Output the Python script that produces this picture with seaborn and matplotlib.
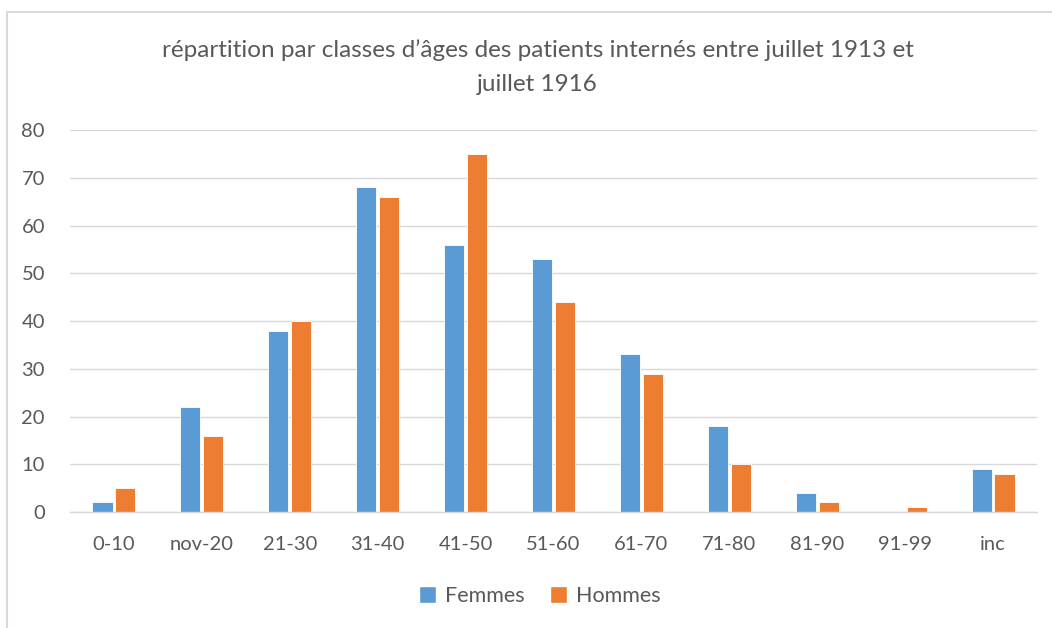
import pandas as pd
import numpy as np
import matplotlib.pyplot as plt
import seaborn as sns
from matplotlib.lines import Line2D
from matplotlib.patches import Patch

classes = ["0-10", "nov-20", "21-30", "31-40", "41-50", "51-60", "61-70", "71-80", "81-90", "91-99", "inc"]
femmes = [2, 22, 38, 68, 56, 53, 33, 18, 4, 0, 9]
hommes = [5, 16, 40, 66, 75, 44, 29, 10, 2, 1, 8]
y_ticks = [0, 10, 20, 30, 40, 50, 60, 70, 80]

df = pd.DataFrame({
    "classe": classes * 2,
    "valeur": femmes + hommes,
    "sexe": ["Femmes"] * len(classes) + ["Hommes"] * len(classes),
})

sns.set_style("white")
plt.rcParams["font.family"] = ["Lato", "DejaVu Sans"]
txt = "#595959"
grid_c = "#D9D9D9"
colors = ["#5B9BD5", "#ED7D31"]

fig = plt.figure(figsize=(10.52, 6.28), dpi=100)
ax = fig.add_axes([70 / 1052, (628 - 512) / 628, (1037 - 70) / 1052, (512 - 130) / 628])

sns.barplot(data=df, x="classe", y="valeur", hue="sexe", palette=colors, saturation=1,
            width=0.52, gap=0.12, edgecolor="white", linewidth=0.6, ax=ax, legend=False)

ax.set_ylim(0, 80)
ax.set_yticks(y_ticks)
ax.set_xlim(-0.5, len(classes) - 0.5)
ax.yaxis.grid(True, color=grid_c, linewidth=1)
ax.set_axisbelow(True)
for s in ["top", "right", "left"]:
    ax.spines[s].set_visible(False)
ax.spines["bottom"].set_color(grid_c)
ax.spines["bottom"].set_linewidth(1)
ax.tick_params(axis="both", length=0, colors=txt, labelsize=14.5)
ax.tick_params(axis="y", pad=18)
ax.tick_params(axis="x", pad=17)
ax.set_xlabel("")
ax.set_ylabel("")

fig.text(0.511, 0.937, "répartition par classes d’âges des patients internés entre juillet 1913 et\njuillet 1916",
         ha="center", va="top", fontsize=17.5, color=txt, linespacing=1.75)

handles = [Patch(facecolor=colors[0]), Patch(facecolor=colors[1])]
fig.legend(handles, ["Femmes", "Hommes"], loc="center", bbox_to_anchor=(0.513, 0.051),
           ncol=2, frameon=False, fontsize=15.5, labelcolor=txt, handlelength=0.8,
           handleheight=0.8, handletextpad=0.4, columnspacing=1.2)

# chart border
fig.add_artist(Line2D([7 / 1052, 7 / 1052], [0, 1 - 12 / 628], transform=fig.transFigure, color=grid_c, lw=1.5))
fig.add_artist(Line2D([7 / 1052, 1], [1 - 12 / 628, 1 - 12 / 628], transform=fig.transFigure, color=grid_c, lw=1.5))

plt.savefig("out.png", dpi=100)
